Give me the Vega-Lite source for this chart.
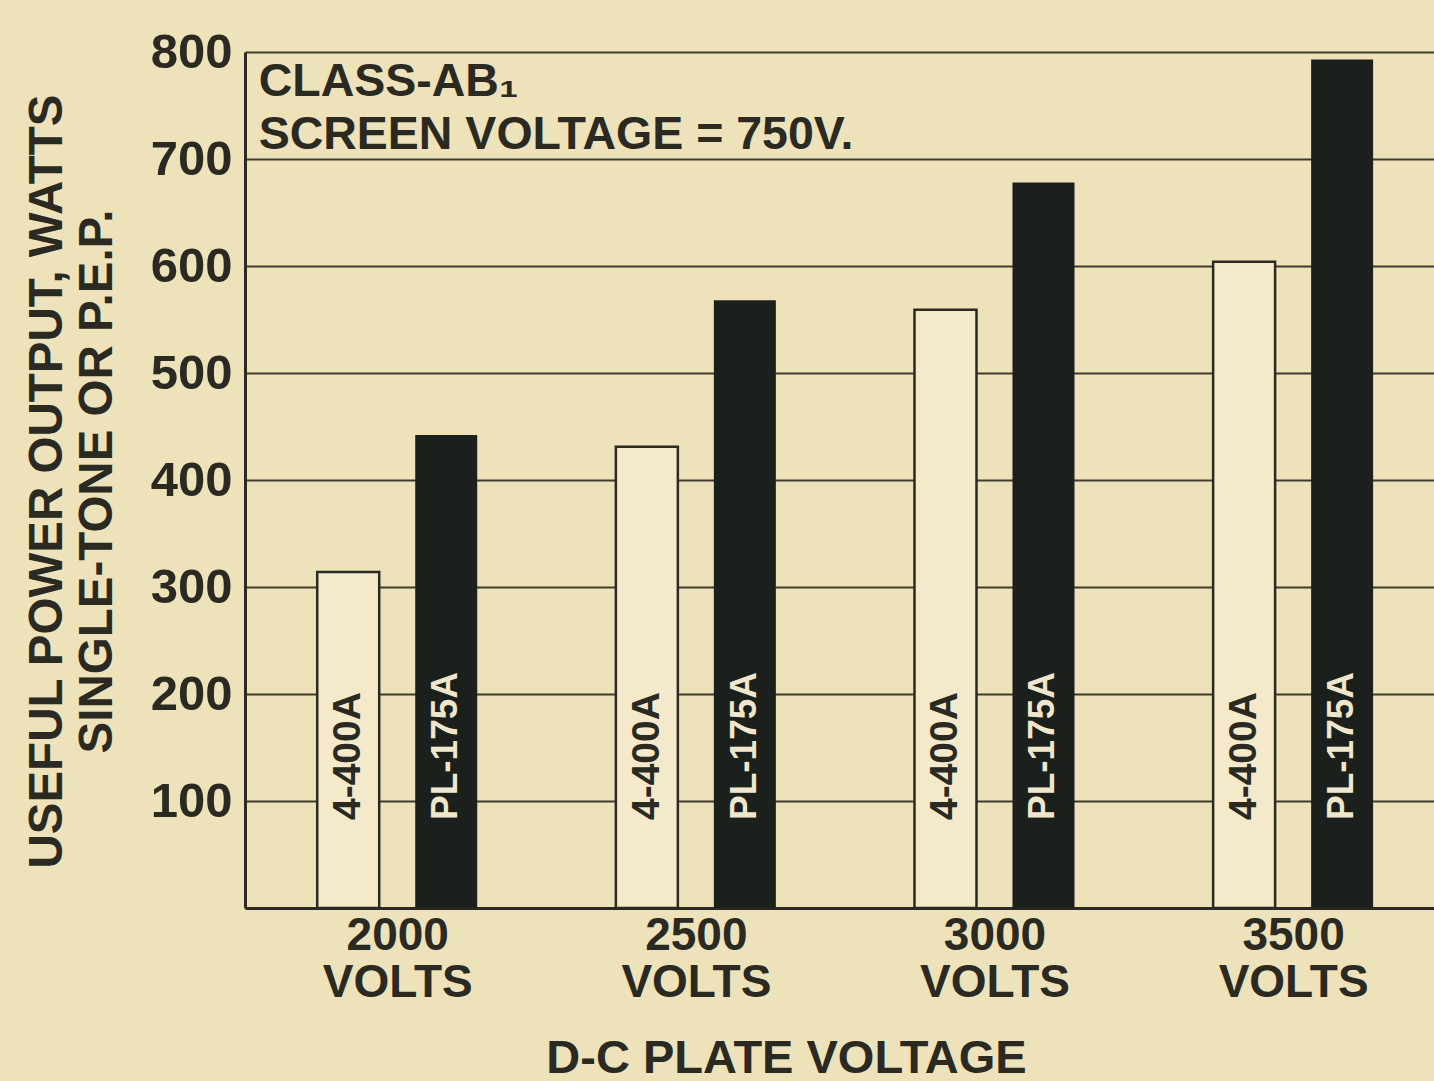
{
  "$schema": "https://vega.github.io/schema/vega-lite/v6.json",
  "autosize": "none",
  "width": 1189,
  "height": 856,
  "padding": {"left": 245, "top": 52, "right": 0, "bottom": 173},
  "background": "#eee2bb",
  "config": {
    "view": {"stroke": null},
    "font": "Liberation Sans",
    "axis": {"labelFont": "Liberation Sans", "titleFont": "Liberation Sans", "labelFontWeight": "bold", "titleFontWeight": "bold", "labelColor": "#2a2a22", "titleColor": "#2a2a22"}
  },
  "datasets": {
    "power": [
      {"voltage": 2000, "tube": "4-400A", "watts": 314},
      {"voltage": 2000, "tube": "PL-175A", "watts": 442},
      {"voltage": 2500, "tube": "4-400A", "watts": 431},
      {"voltage": 2500, "tube": "PL-175A", "watts": 568},
      {"voltage": 3000, "tube": "4-400A", "watts": 559},
      {"voltage": 3000, "tube": "PL-175A", "watts": 678},
      {"voltage": 3500, "tube": "4-400A", "watts": 604},
      {"voltage": 3500, "tube": "PL-175A", "watts": 793}
    ],
    "note": [
      {"voltage": 1768, "watts": 793}
    ]
  },
  "layer": [
    {
      "data": {"name": "power"},
      "transform": [{"filter": "datum.tube === '4-400A'"}],
      "mark": {"type": "bar", "orient": "vertical", "width": 62, "xOffset": -49, "fill": "#f4eacb", "stroke": "#2b2a22", "strokeWidth": 2.5},
      "encoding": {
        "x": {
          "field": "voltage", "type": "quantitative",
          "scale": {"domain": [1753.5, 3727.5], "nice": false, "zero": false},
          "axis": {
            "values": [2000, 2500, 3000, 3500],
            "format": "d",
            "labelExpr": "[datum.label, 'VOLTS']",
            "labelFontSize": 46,
            "labelLineHeight": 47,
            "labelPadding": 5,
            "labelBaseline": "top",
            "ticks": false,
            "grid": false,
            "domain": true,
            "domainColor": "#2b2a22",
            "domainWidth": 3,
            "title": "D-C PLATE VOLTAGE",
            "titleFontSize": 47,
            "titleX": 541,
            "titleY": 150,
            "titleAlign": "center",
            "titleBaseline": "middle"
          }
        },
        "y": {
          "field": "watts", "type": "quantitative",
          "scale": {"domain": [0, 800], "nice": false},
          "axis": {
            "values": [100, 200, 300, 400, 500, 600, 700, 800],
            "labelFontSize": 49,
            "labelPadding": 13,
            "ticks": false,
            "grid": true,
            "gridColor": "#3f3b2e",
            "gridWidth": 2,
            "gridOpacity": 1,
            "domain": true,
            "domainColor": "#2b2a22",
            "domainWidth": 3,
            "title": ["USEFUL POWER OUTPUT, WATTS", "SINGLE-TONE OR P.E.P."],
            "titleFontSize": 47.5,
            "titleLineHeight": 50,
            "titleAngle": 270,
            "titleX": -198,
            "titleY": 429,
            "titleAlign": "center",
            "titleBaseline": "middle"
          }
        }
      }
    },
    {
      "data": {"name": "power"},
      "transform": [{"filter": "datum.tube === 'PL-175A'"}],
      "mark": {"type": "bar", "orient": "vertical", "width": 62, "xOffset": 49, "fill": "#1c201d"},
      "encoding": {
        "x": {"field": "voltage", "type": "quantitative"},
        "y": {"field": "watts", "type": "quantitative"}
      }
    },
    {
      "data": {"name": "power"},
      "transform": [{"filter": "datum.tube === '4-400A'"}],
      "mark": {"type": "text", "angle": 270, "align": "left", "baseline": "middle", "dx": 88, "xOffset": -49, "fontSize": 39, "fontWeight": "bold", "fill": "#2a2a22"},
      "encoding": {
        "x": {"field": "voltage", "type": "quantitative"},
        "y": {"datum": 0},
        "text": {"field": "tube"}
      }
    },
    {
      "data": {"name": "power"},
      "transform": [{"filter": "datum.tube === 'PL-175A'"}],
      "mark": {"type": "text", "angle": 270, "align": "left", "baseline": "middle", "dx": 88, "xOffset": 49, "fontSize": 37, "fontWeight": "bold", "fill": "#efe6cc"},
      "encoding": {
        "x": {"field": "voltage", "type": "quantitative"},
        "y": {"datum": 0},
        "text": {"field": "tube"}
      }
    },
    {
      "data": {"name": "note"},
      "mark": {"type": "text", "align": "left", "baseline": "top", "lineHeight": 53, "fontSize": 46.5, "fontWeight": "bold", "fill": "#2a2a22"},
      "encoding": {
        "x": {"field": "voltage", "type": "quantitative"},
        "y": {"field": "watts", "type": "quantitative"},
        "text": {"value": ["CLASS-AB₁", "SCREEN VOLTAGE = 750V."]}
      }
    }
  ]
}
